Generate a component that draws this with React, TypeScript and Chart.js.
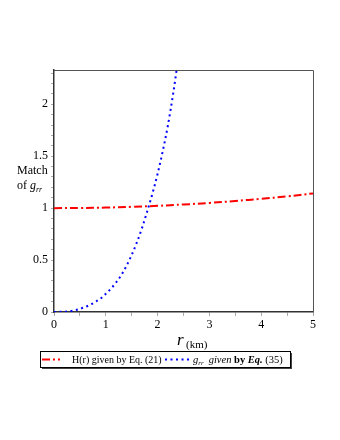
import React, { useEffect, useRef } from "react";
import { Chart, registerables } from "chart.js";

Chart.register(...registerables);

const rH = [0, 0.5, 1, 1.5, 2, 2.5, 3, 3.5, 4, 4.5, 5];
const hValues = [1.0, 1.0014, 1.0056, 1.0126, 1.0224, 1.035, 1.05, 1.069, 1.09, 1.113, 1.142];

const rG = [0, 0.1, 0.2, 0.3, 0.4, 0.5, 0.6, 0.7, 0.8, 0.9, 1.0, 1.1, 1.2, 1.3, 1.4, 1.5, 1.6, 1.7, 1.8, 1.9, 2.0, 2.1, 2.2, 2.3, 2.4];
const gValues = [0, 0.001, 0.003, 0.008, 0.016, 0.03, 0.048, 0.07, 0.098, 0.13, 0.175, 0.225, 0.285, 0.355, 0.445, 0.55, 0.67, 0.81, 0.97, 1.14, 1.33, 1.55, 1.8, 2.1, 2.45];

const xLabels = ["0", "1", "2", "3", "4", "5"];
const yLabels = ["0", "0.5", "1", "1.5", "2"];

const SERIF = "'Liberation Serif', 'DejaVu Serif', serif";

const decor = {
  id: "decor",
  afterDraw(chart: any) {
    const ctx = chart.ctx as CanvasRenderingContext2D;
    const a = chart.chartArea;
    ctx.save();
    ctx.strokeStyle = "#555";
    ctx.lineWidth = 1;
    ctx.beginPath();
    ctx.moveTo(a.left, a.top + 0.5);
    ctx.lineTo(a.right + 0.5, a.top + 0.5);
    ctx.lineTo(a.right + 0.5, a.bottom);
    ctx.stroke();

    ctx.fillStyle = "#000";
    ctx.font = `12px ${SERIF}`;
    ctx.textBaseline = "alphabetic";
    ctx.textAlign = "left";
    ctx.fillText("Match", 17, 174);
    ctx.fillText("of ", 17, 189);
    const w = ctx.measureText("of ").width;
    ctx.font = `italic 12px ${SERIF}`;
    ctx.fillText("g", 17 + w, 189);
    const gw = ctx.measureText("g").width;
    ctx.font = `italic 8px ${SERIF}`;
    ctx.fillText("rr", 17 + w + gw, 192);

    ctx.font = `italic 17px ${SERIF}`;
    ctx.fillText("r", 177, 345);
    ctx.font = `11px ${SERIF}`;
    ctx.fillText("(km)", 186, 348);

    const bx = 40, by = 351, bw = 250, bh = 16;
    ctx.fillStyle = "#444";
    ctx.fillRect(bx + 2, by + 2, bw, bh);
    ctx.fillStyle = "#fff";
    ctx.fillRect(bx, by, bw, bh);
    ctx.strokeStyle = "#000";
    ctx.lineWidth = 1;
    ctx.strokeRect(bx + 0.5, by + 0.5, bw, bh);

    const ly = by + 8.5;
    ctx.lineWidth = 2;
    ctx.strokeStyle = "#ff0000";
    ctx.setLineDash([8, 3, 2, 3]);
    ctx.beginPath();
    ctx.moveTo(bx + 2, ly);
    ctx.lineTo(bx + 20, ly);
    ctx.stroke();
    ctx.strokeStyle = "#0000ff";
    ctx.setLineDash([2, 3.5]);
    ctx.beginPath();
    ctx.moveTo(165, ly);
    ctx.lineTo(189, ly);
    ctx.stroke();
    ctx.setLineDash([]);

    ctx.fillStyle = "#000";
    const ty = by + 12;
    ctx.font = `10px ${SERIF}`;
    ctx.fillText("H(r) given by Eq. (21)", 72, ty);
    let x = 193;
    const seg = (t: string, f: string, dy = 0) => {
      ctx.font = f;
      ctx.fillText(t, x, ty + dy);
      x += ctx.measureText(t).width;
    };
    seg("g", `italic 10.5px ${SERIF}`);
    seg("rr", `italic 7px ${SERIF}`, 2);
    x += 5;
    seg("given ", `italic 10.5px ${SERIF}`);
    seg("by ", `bold 10.5px ${SERIF}`);
    seg("Eq.", `bold italic 10.5px ${SERIF}`);
    seg(" (35)", `10.5px ${SERIF}`);
    ctx.restore();
  },
};

export default function App() {
  const ref = useRef<HTMLCanvasElement>(null);
  useEffect(() => {
    if (!ref.current) return;
    const chart = new Chart(ref.current, {
      type: "line",
      data: {
        datasets: [
          {
            label: "H(r) given by Eq. (21)",
            data: rH.map((r, i) => ({ x: r, y: hValues[i] })),
            borderColor: "#ff0000",
            borderWidth: 2,
            borderDash: [8, 3, 2, 3],
            pointRadius: 0,
            tension: 0.4,
            fill: false,
          },
          {
            label: "g_rr given by Eq. (35)",
            data: rG.map((r, i) => ({ x: r, y: gValues[i] })),
            borderColor: "#0000ff",
            borderWidth: 2,
            borderDash: [2, 3.5],
            pointRadius: 0,
            tension: 0.4,
            cubicInterpolationMode: "monotone",
            fill: false,
          },
        ],
      },
      options: {
        animation: false,
        responsive: false,
        maintainAspectRatio: false,
        layout: { padding: { left: 0, right: 27, top: 70, bottom: 98 } },
        plugins: { legend: { display: false }, tooltip: { enabled: false } },
        scales: {
          x: {
            type: "linear",
            min: 0,
            max: 5,
            afterFit: (s: any) => { s.height = 30; },
            afterBuildTicks: (s: any) => {
              const t = [];
              for (let i = 0; i <= 10; i++) t.push({ value: i * 0.5 });
              s.ticks = t;
            },
            ticks: {
              autoSkip: false,
              maxRotation: 0,
              padding: 2,
              color: "#000",
              font: { family: SERIF, size: 12 },
              callback: (v: any) => {
                const n = Number(v);
                return Math.abs(n - Math.round(n)) < 1e-6 ? xLabels[Math.round(n)] : "";
              },
            },
            grid: { drawOnChartArea: false, tickLength: 4, color: "#aaa" },
            border: { color: "#333", width: 1.5 },
          },
          y: {
            type: "linear",
            min: 0,
            max: 2.33,
            afterFit: (s: any) => { s.width = 54; },
            afterBuildTicks: (s: any) => {
              const t = [];
              for (let i = 0; i <= 23; i++) t.push({ value: i * 0.1 });
              s.ticks = t;
            },
            ticks: {
              autoSkip: false,
              padding: 3,
              color: "#000",
              font: { family: SERIF, size: 12 },
              callback: (v: any) => {
                const n = Math.round(Number(v) * 10);
                return n % 5 === 0 ? yLabels[n / 5] : "";
              },
            },
            grid: { drawOnChartArea: false, tickLength: 3, color: "#aaa" },
            border: { color: "#333", width: 1.5 },
          },
        },
      },
      plugins: [decor],
    });
    return () => chart.destroy();
  }, []);
  return (
    <div style={{ position: "absolute", left: 0, top: 0, width: 340, height: 440 }}>
      <canvas ref={ref} width={340} height={440} style={{ width: 340, height: 440 }} />
    </div>
  );
}
